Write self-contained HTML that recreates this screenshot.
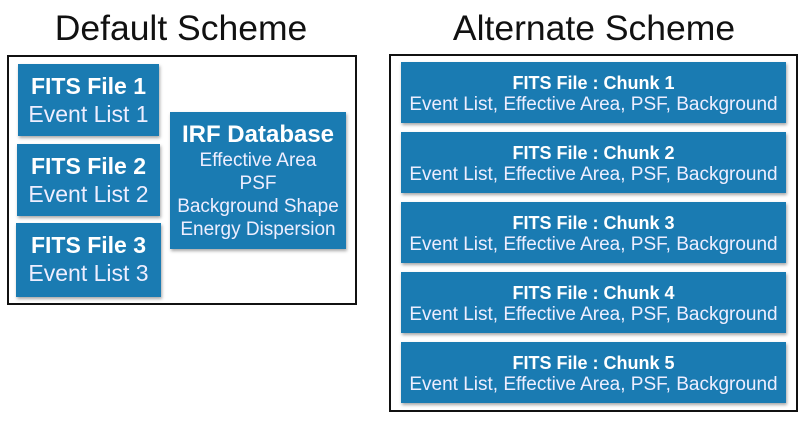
<!DOCTYPE html>
<html><head><style>
body{margin:0;width:805px;height:422px;background:#fff;position:relative;font-family:"Liberation Sans",sans-serif;overflow:hidden}
.t{position:absolute;font-size:35.5px;color:#111;text-align:center;top:8px;white-space:nowrap}
.f{position:absolute;border:2.5px solid #111;box-sizing:border-box}
.b{position:absolute;background:#1a7bb2;color:#fff;text-align:center;box-shadow:1px 2px 3px rgba(0,0,0,.35);box-sizing:border-box;white-space:nowrap}
.b b{display:block;font-size:23px}
.b span{display:block;font-size:23px;color:#eef}
.c b{font-size:18px;line-height:20px;padding-top:11px}
.c span{font-size:19px;line-height:23px}
.i span{font-size:19px;line-height:23px}
</style></head><body>
<div class="t" style="left:0;width:362px">Default Scheme</div>
<div class="t" style="left:390px;width:408px">Alternate Scheme</div>
<div class="f" style="left:7px;top:55px;width:350px;height:250px"></div>
<div class="f" style="left:389px;top:54px;width:409px;height:358px"></div>
<div class="b" style="left:18px;top:64px;width:141px;height:72px"><b style="padding-top:9px;line-height:27px">FITS File 1</b><span style="line-height:28px">Event List 1</span></div>
<div class="b" style="left:17px;top:144px;width:143px;height:72px"><b style="padding-top:9px;line-height:27px">FITS File 2</b><span style="line-height:28px">Event List 2</span></div>
<div class="b" style="left:16px;top:223px;width:145px;height:74px"><b style="padding-top:9px;line-height:27px">FITS File 3</b><span style="line-height:28px">Event List 3</span></div>
<div class="b i" style="left:170px;top:112px;width:176px;height:137px"><b style="padding-top:8px;line-height:29px;font-size:24px">IRF Database</b><span>Effective Area<br>PSF<br>Background Shape<br>Energy Dispersion</span></div>
<div class="b c" style="left:401px;top:62px;width:385px;height:61px"><b>FITS File : Chunk 1</b><span>Event List, Effective Area, PSF, Background</span></div>
<div class="b c" style="left:401px;top:132px;width:385px;height:61px"><b>FITS File : Chunk 2</b><span>Event List, Effective Area, PSF, Background</span></div>
<div class="b c" style="left:401px;top:202px;width:385px;height:61px"><b>FITS File : Chunk 3</b><span>Event List, Effective Area, PSF, Background</span></div>
<div class="b c" style="left:401px;top:272px;width:385px;height:61px"><b>FITS File : Chunk 4</b><span>Event List, Effective Area, PSF, Background</span></div>
<div class="b c" style="left:401px;top:342px;width:385px;height:61px"><b>FITS File : Chunk 5</b><span>Event List, Effective Area, PSF, Background</span></div>
</body></html>
